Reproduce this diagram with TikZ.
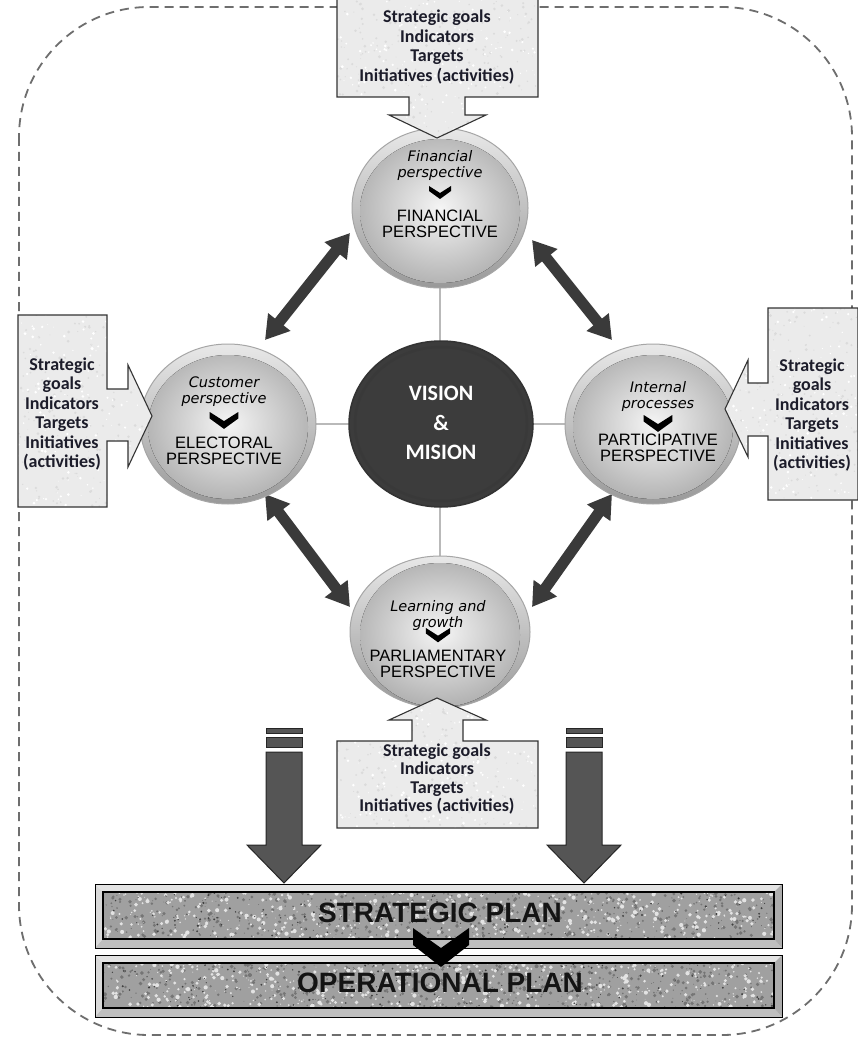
\documentclass[tikz,border=0pt]{standalone}
\usepackage{fontspec}
\setmainfont{Liberation Sans}
\newfontfamily\calib{Carlito}
\newfontfamily\dvs{DejaVu Sans}
\usetikzlibrary{shapes.geometric,arrows.meta,backgrounds}
\definecolor{txtc}{HTML}{1C1C2A}
\definecolor{arrc}{HTML}{3A3A3A}
\definecolor{dkar}{HTML}{555555}
\definecolor{visc}{HTML}{3C3C3C}
\definecolor{boxc}{HTML}{EBEBEB}
\definecolor{bordc}{HTML}{6E6E6E}
\definecolor{granite}{HTML}{A0A0A0}
\newcommand\chev[3]{\fill[black] ({#1-11*#3},{#2}) -- ({#1},{#2+7*#3}) -- ({#1+11*#3},{#2}) -- ({#1+11*#3},{#2+5*#3}) -- ({#1},{#2+13*#3}) -- ({#1-11*#3},{#2+5*#3}) -- cycle;}
\newcommand\speck[7]{\foreach \k in {1,...,#5}{\pgfmathsetmacro\xx{#1+rnd*(#3-#1)}\pgfmathsetmacro\yy{#2+rnd*(#4-#2)}\pgfmathsetmacro\rr{0.4+rnd*#7}\fill[#6] (\xx,\yy) circle (\rr pt);}}
\begin{document}
\begin{tikzpicture}[x=1pt,y=-1pt,
 persp/.style={ellipse, minimum width=176pt, minimum height=160pt, inner sep=0pt, draw=gray!70, line width=1pt, top color=gray!18, bottom color=gray!80, path picture={\fill[inner color=gray!8, outer color=gray!62] ([yshift=-3pt]path picture bounding box.center) ellipse (80pt and 72pt);}},
 vis/.style={ellipse, minimum width=184pt, minimum height=166pt, inner sep=0pt, fill=visc, draw=black!80, line width=1.5pt, path picture={\draw[gray!45!black, line width=2.5pt] (path picture bounding box.center) ellipse (86pt and 77pt);}},
 itl/.style={font=\dvs\itshape\fontsize{14.5}{16}\selectfont, text=black, align=center, inner sep=0pt},
 capt/.style={font=\fontsize{16.5}{15.5}\selectfont, text=black, align=center, inner sep=0pt},
 boxt/.style={font=\calib\bfseries\fontsize{18}{19.5}\selectfont, text=txtc, align=center, inner sep=0pt},
 calloutline/.style={draw=black!80, line width=1.1pt, line join=miter},
 dbl/.style={draw=arrc, line width=11pt, {Triangle[width=27pt,length=23pt]}-{Triangle[width=27pt,length=23pt]}},
 downar/.style={fill=dkar, draw=black!85, line width=1pt},
 crossl/.style={draw=gray!55, line width=2.5pt},
 planT/.style={font=\bfseries\fontsize{28}{28}\selectfont, text=black!92, inner sep=0pt},
 visT/.style={font=\calib\bfseries\fontsize{22}{29.5}\selectfont, text=white, align=center, inner sep=0pt},
]
\useasboundingbox (0,0) rectangle (857,1040);
\pgfmathsetseed{7}

% double arrows (behind circles)
\coordinate (a1s) at (265,340); \coordinate (a1e) at (350,233);
\coordinate (a2s) at (532,240); \coordinate (a2e) at (612,340);
\coordinate (a3s) at (265,494); \coordinate (a3e) at (350,607);
\coordinate (a4s) at (612,494); \coordinate (a4e) at (532,607);
\draw[dbl] (a1s) -- (a1e);
\draw[dbl] (a2s) -- (a2e);
\draw[dbl] (a3s) -- (a3e);
\draw[dbl] (a4s) -- (a4e);

% circles
\node[persp] (fin) at (440,208) {};
\node[persp] (ele) at (228,424) {};
\node[persp] (par) at (653,424) {};
\node[persp, minimum width=180pt, minimum height=152pt] (parl) at (440,632) {};
\node[vis] (vis) at (441,424) {};

\begin{scope}[on background layer]
\fill[white] (0,0) rectangle (857,1040);
\draw[bordc, line width=1.8pt, dash pattern=on 9pt off 6pt, rounded corners=130pt] (19,7) rectangle (852,1035);
\draw[crossl] (fin.center) -- (parl.center);
\draw[crossl] (ele.center) -- (par.center);
\end{scope}

% circle texts
\node[visT] (visTxt) at (441,423) {VISION\\\&\\MISION};

\node[itl] (finI) at (440,166) {Financial\\perspective};
\chev{440}{186}{1}
\node[capt] (finC) at (440,224) {FINANCIAL\\PERSPECTIVE};

\node[itl] (eleI) at (224,392) {Customer\\perspective};
\chev{224}{412}{1.3}
\node[capt] (eleC) at (224,451) {ELECTORAL\\PERSPECTIVE};

\node[itl] (parI) at (658,396) {Internal\\processes};
\chev{658}{415}{1.3}
\node[capt] (parC) at (658,448) {PARTICIPATIVE\\PERSPECTIVE};

\node[itl] (parlI) at (438,615) {Learning and\\growth};
\chev{438}{628}{1.1}
\node[capt] (parlC) at (438,664) {PARLIAMENTARY\\PERSPECTIVE};

% callouts
\def\topP{(337,-2) -- (538,-2) -- (538,97) -- (465,97) -- (465,115) -- (486,115) -- (437,138) -- (389,115) -- (409,115) -- (409,97) -- (337,97) -- cycle}
\def\leftP{(18,315) -- (107,315) -- (107,389) -- (128,389) -- (128,365) -- (152,416) -- (128,467) -- (128,441) -- (107,441) -- (107,507) -- (18,507) -- cycle}
\def\rightP{(858,308) -- (768,308) -- (768,383) -- (748,383) -- (748,360) -- (725,409) -- (748,457) -- (748,436) -- (768,436) -- (768,500) -- (858,500) -- cycle}
\def\botP{(337,828) -- (538,828) -- (538,741) -- (463,741) -- (463,720) -- (486,720) -- (437,698) -- (389,720) -- (412,720) -- (412,741) -- (337,741) -- cycle}

\begin{scope}\clip \topP; \fill[boxc] (330,-5) rectangle (545,140);
\speck{330}{-5}{545}{140}{260}{gray!28}{1.2}\speck{330}{-5}{545}{140}{200}{white}{1.2}\end{scope}
\draw[calloutline] \topP;
\begin{scope}\clip \leftP; \fill[boxc] (15,310) rectangle (155,510);
\speck{15}{310}{155}{510}{220}{gray!28}{1.2}\speck{15}{310}{155}{510}{160}{white}{1.2}\end{scope}
\draw[calloutline] \leftP;
\begin{scope}\clip \rightP; \fill[boxc] (720,305) rectangle (860,505);
\speck{720}{305}{860}{505}{220}{gray!28}{1.2}\speck{720}{305}{860}{505}{160}{white}{1.2}\end{scope}
\draw[calloutline] \rightP;
\begin{scope}\clip \botP; \fill[boxc] (330,695) rectangle (545,830);
\speck{330}{695}{545}{830}{240}{gray!28}{1.2}\speck{330}{695}{545}{830}{180}{white}{1.2}\end{scope}
\draw[calloutline] \botP;

\node[boxt] (topT) at (437,47) {Strategic goals\\Indicators\\Targets\\Initiatives (activities)};
\node[boxt] (leftT) at (62,414) {Strategic\\goals\\Indicators\\Targets\\Initiatives\\(activities)};
\node[boxt] (rightT) at (812,415) {Strategic\\goals\\Indicators\\Targets\\Initiatives\\(activities)};
\node[boxt, font=\calib\bfseries\fontsize{18}{18.5}\selectfont] (botT) at (437,779) {Strategic goals\\Indicators\\Targets\\Initiatives (activities)};

% down arrows
\foreach \cx/\nm in {284/dl,584/dr}{
  \draw[downar] (\cx-18,728) rectangle (\cx+18,733);
  \draw[downar] (\cx-18,737) rectangle (\cx+18,747);
  \draw[downar] (\cx-18,752) -- (\cx+18,752) -- (\cx+18,845) -- (\cx+37,845) -- (\cx,883) -- (\cx-37,845) -- (\cx-18,845) -- cycle;
}

% plan bars
\foreach \ty/\by in {884/948,955/1017}{
  \fill[gray!22] (95,\ty) -- (782,\ty) -- (774,\ty+8) -- (103,\ty+8) -- cycle;
  \fill[gray!30] (95,\ty) -- (103,\ty+8) -- (103,\by-9) -- (95,\by) -- cycle;
  \fill[gray!50] (95,\by) -- (103,\by-9) -- (774,\by-9) -- (782,\by) -- cycle;
  \fill[gray!65] (782,\ty) -- (774,\ty+8) -- (774,\by-9) -- (782,\by) -- cycle;
  \begin{scope}
    \clip (103,\ty+8) rectangle (774,\by-9);
    \fill[granite] (100,\ty) rectangle (780,\by);
    \speck{100}{\ty}{780}{\by}{700}{gray!45!black!70}{1.6}
    \speck{100}{\ty}{780}{\by}{700}{gray!22}{1.8}
    \speck{100}{\ty}{780}{\by}{250}{black!75}{0.8}
  \end{scope}
  \draw[black, line width=1pt] (95,\ty) rectangle (782,\by);
  \draw[black, line width=1.2pt] (103,\ty+8) rectangle (774,\by-9);
}
\node[planT] (sp) at (440,913) {STRATEGIC PLAN};
\node[planT] (op) at (440,983) {OPERATIONAL PLAN};
\fill[black] (413,928) -- (441,948) -- (469,928) -- (469,945) -- (441,967) -- (413,945) -- cycle;
\end{tikzpicture}
\end{document}
